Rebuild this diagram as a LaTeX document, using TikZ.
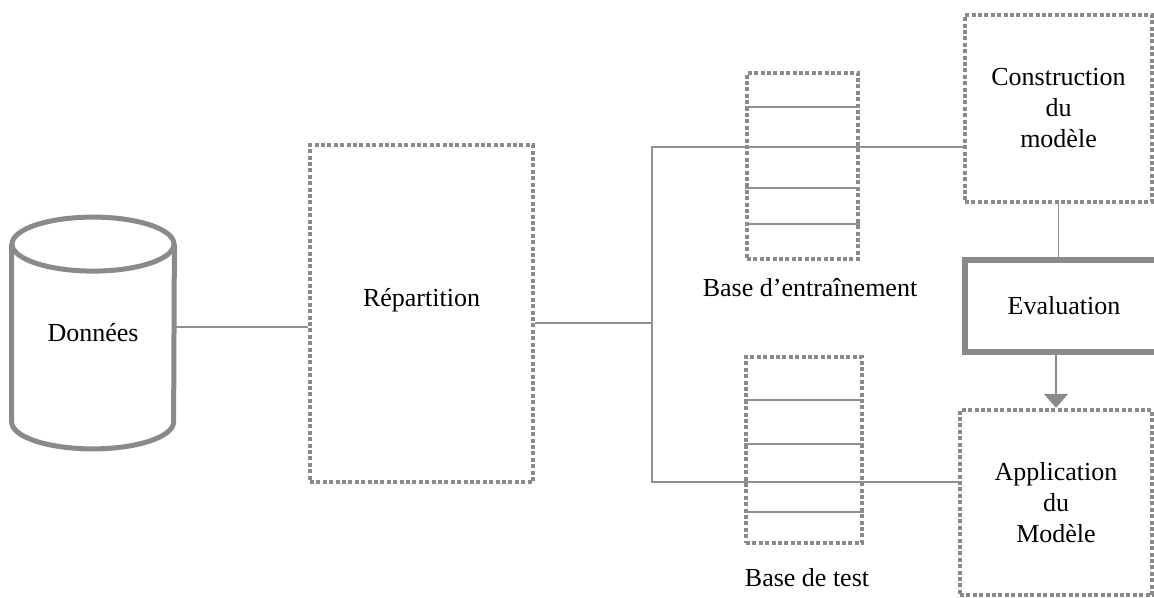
\documentclass[tikz,border=0pt]{standalone}
\usepackage{fontspec}
\setmainfont{Liberation Serif}
\usepackage{xcolor}
\usepackage{tikz}
\usetikzlibrary{arrows.meta,positioning,calc}

\definecolor{boxgray}{HTML}{8A8A8A}
\definecolor{wiregray}{HTML}{909090}

\begin{document}
\begin{tikzpicture}[x=0.5pt,y=-0.5pt,
  every node/.style={font=\fontsize{13}{15.5}\selectfont,align=center},
  dotbox/.style={draw=boxgray,line width=2.2pt,dash pattern=on 2pt off 1.2pt,inner sep=0pt},
  cyl/.style={draw=boxgray,line width=2.5pt,fill=white},
  wire/.style={draw=wiregray,line width=0.6pt},
  rowline/.style={draw=wiregray,line width=0.6pt}]
  \useasboundingbox (0,0) rectangle (1154,598);
  \clip (0,0) rectangle (1154,598);

  % base de donnees
  \node (don) [minimum width=81pt,minimum height=88.5pt,inner sep=0pt] at (93,333) {};
  \draw[cyl] (don.north west) -- (don.south west)
    arc[start angle=180,end angle=360,x radius=40.5pt,y radius=13.5pt] -- (don.north east);
  \draw[cyl] (don.north) ellipse[x radius=40.5pt,y radius=13.5pt];
  \node at (don.center) {Données};

  % repartition
  \node[dotbox,minimum width=111.5pt,minimum height=168.5pt] (rep) at (421.5,313.5) {};
  \node at ($(rep.center)+(0,-13)$) {R\'epartition};

  % bases
  \node[dotbox,minimum width=55.5pt,minimum height=93pt] (train) at (802.5,166) {};
  \foreach \yy in {107,188,224}
    \draw[rowline] (train.west |- 0,\yy) -- (train.east |- 0,\yy);
  \node (trainlbl) at (810,288) {Base d’entraînement};

  \node[dotbox,minimum width=58pt,minimum height=93pt] (test) at (804,450) {};
  \foreach \yy in {400,444,512}
    \draw[rowline] (test.west |- 0,\yy) -- (test.east |- 0,\yy);
  \node (testlbl) at (807,578) {Base de test};

  % modele
  \node[dotbox,minimum width=93.5pt,minimum height=93.5pt] (constr) at (1058.5,108.5)
    {Construction\\du\\modèle};
  \node[draw=boxgray,line width=3pt,minimum width=99pt,minimum height=46pt] (eval) at (1064,306)
    {Evaluation};
  \node[dotbox,minimum width=96pt,minimum height=92.5pt] (appl) at (1056,502.5)
    {Application\\du\\Modèle};

  % liaisons
  \coordinate (split) at (652,323);
  \coordinate (up) at (652,147);
  \coordinate (down) at (652,482);
  \draw[wire] (don.east |- 0,327) -- (rep.west |- 0,327);
  \draw[wire] (split -| rep.east) -- (split);
  \draw[wire] (constr.west |- up) -- (up) -- (down) -- (appl.west |- down);
  \draw[wire] (constr.south) -- (eval.north -| constr.south);
  \draw[wire,line width=1pt,-{Triangle[length=7pt,width=12pt]},color=boxgray]
    (eval.south -| appl.north) -- (appl.north);
\end{tikzpicture}
\end{document}
